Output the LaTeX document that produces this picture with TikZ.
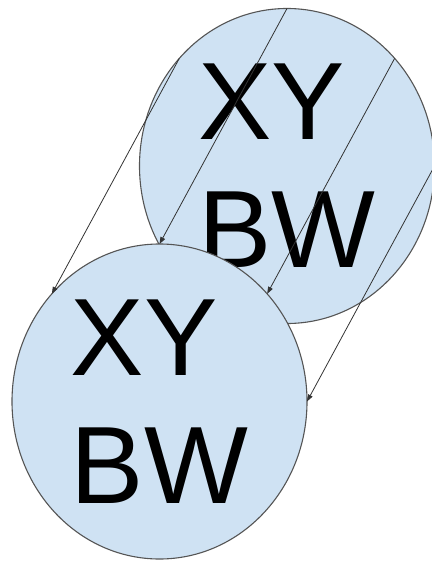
\documentclass[tikz,border=0pt]{standalone}
\usepackage{fontspec}
\setmainfont{Liberation Sans}
\usetikzlibrary{shapes.geometric,arrows.meta}
\definecolor{bubble}{HTML}{CFE2F3}
\definecolor{edge}{HTML}{555555}
\definecolor{arrowc}{HTML}{333333}
\tikzset{
  bubblenode/.style={ellipse, draw=edge, line width=1.1pt, fill=bubble,
    minimum width=295pt, minimum height=315pt, inner sep=0pt, outer sep=0pt,
    align=left, font=\fontsize{110}{128}\selectfont, text=black},
  moveline/.style={draw=arrowc, line width=0.8pt,
    -{Triangle[length=7pt,width=5pt]}}
}
\begin{document}
\begin{tikzpicture}[x=1pt,y=-1pt]
\useasboundingbox (0,0) rectangle (431,561);
\node[bubblenode] (up) at (287,166) {XY\\BW};
\node[bubblenode] (low) at (159.5,401.5) {XY\\BW};
\draw[moveline] (up.90) -- (low.90);
\draw[moveline] (up.135) -- (low.135);
\draw[moveline] (up.45) -- (low.45);
\draw[moveline] (up.0) -- (low.0);
\end{tikzpicture}
\end{document}
